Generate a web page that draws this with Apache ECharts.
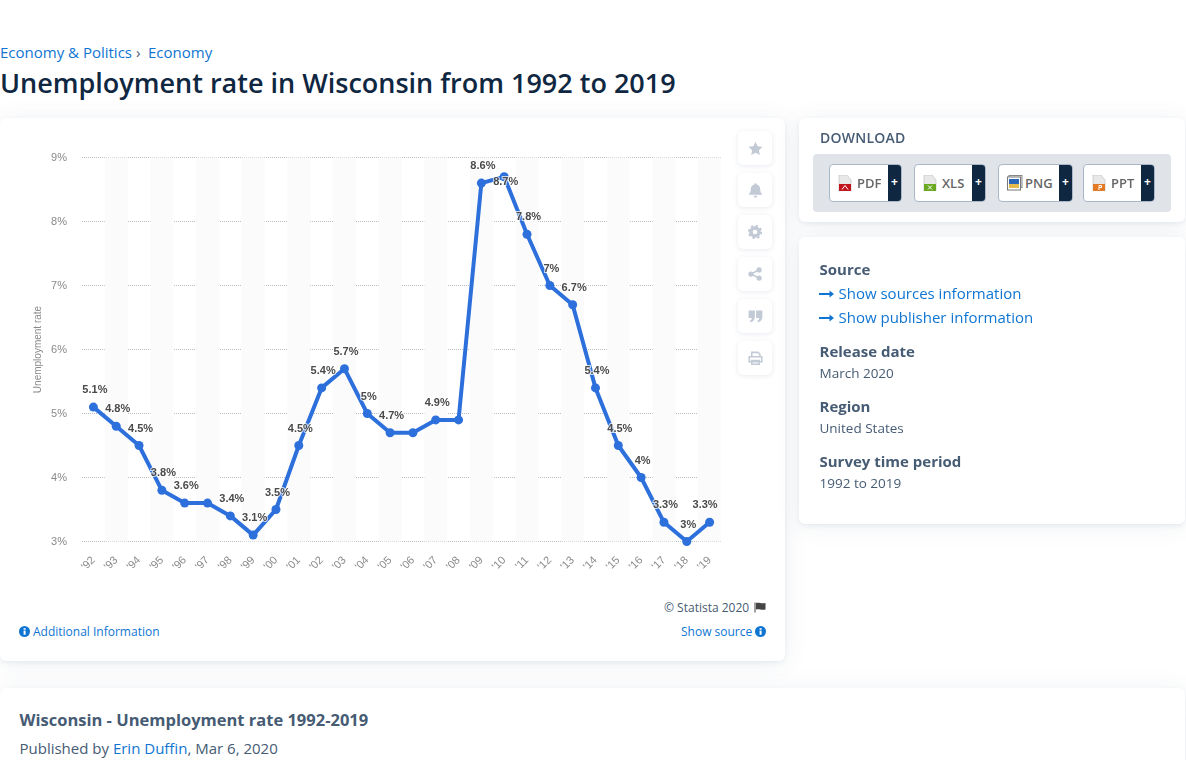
<!DOCTYPE html>
<html><head><meta charset="utf-8">
<script src="https://cdn.jsdelivr.net/npm/echarts@6/dist/echarts.min.js"></script>
<style>
html,body{margin:0;padding:0;width:1186px;height:760px;overflow:hidden;background:#fff;font-family:"Open Sans","Noto Sans",sans-serif;color:#0f2741}
#page{position:relative;width:1186px;height:760px;overflow:hidden;background:#fff}
.abs{position:absolute;white-space:nowrap}
a,.lnk{color:#0f75d2;text-decoration:none}
.card{position:absolute;background:#fff;border-radius:6px;box-shadow:0 2px 4px rgba(70,85,120,.08),0 2px 24px rgba(70,85,120,.09)}
.side-h{font-weight:700;font-size:15px;color:#465b74;line-height:20px}
.side-t{font-size:13.5px;color:#465b74;line-height:18px}
.icon{position:absolute;left:738px;width:34px;height:34px;background:#fff;border-radius:5px;box-shadow:0 1px 5px rgba(60,80,120,.12);display:flex;align-items:center;justify-content:center}
.btn{position:absolute;top:164px;height:36px;background:#fff;border:1px solid #a9b7c8;border-radius:4px;box-sizing:content-box;overflow:hidden}
.btn b{position:absolute;top:9px;font-size:13px;font-weight:600;color:#666;line-height:18px}
.btn i{position:absolute;right:0;top:0;bottom:0;width:13px;background:#0f2741;color:#fff;font-style:normal;font-weight:700;font-size:12px;line-height:34px;text-align:center}
.btn svg{position:absolute;left:8px;top:10px}
.arr{position:absolute;left:819px}
</style></head><body>
<div id="page">
<div class="abs" style="left:0;top:42px;font-size:15px;line-height:20px"><span class="lnk">Economy &amp; Politics</span><span style="color:#465b74;position:absolute;left:136px;top:0">›</span><span class="lnk" style="position:absolute;left:148px;top:0">Economy</span></div>
<div class="abs" style="left:0;top:65px;font-size:27px;line-height:36px;font-weight:600;color:#0f2741">Unemployment rate in Wisconsin from 1992 to 2019</div>

<div class="card" style="left:0;top:118px;width:785px;height:543px"></div>
<div id="chart" class="abs" style="left:0;top:118px;width:785px;height:480px"></div>

<div class="icon" style="top:131px"><svg width="15" height="15" viewBox="0 0 24 24" fill="#c2cad6"><path d="M12 1l3.4 7.3 7.9.9-5.9 5.4 1.6 7.9L12 18.6 5 22.500l1.600-7.900L.7 9.200l7.900-.9z"/></svg></div>
<div class="icon" style="top:173px"><svg width="15" height="16" viewBox="0 0 24 24" fill="#c2cad6"><path d="M12 1a2 2 0 0 1 2 2c4 1 5.500 4 5.500 8 0 4 1.500 5.500 3 7v1.500h-21V18c1.500-1.500 3-3 3-7 0-4 1.500-7 5.500-8a2 2 0 0 1 2-2zM9 21h6a3 3 0 0 1-6 0z"/></svg></div>
<div class="icon" style="top:215px"><svg width="14" height="14" viewBox="0 0 24 24"><circle cx="12" cy="12" r="7" fill="none" stroke="#c2cad6" stroke-width="6"/><circle cx="12" cy="12" r="10.500" fill="none" stroke="#c2cad6" stroke-width="3.500" stroke-dasharray="4 4.200"/></svg></div>
<div class="icon" style="top:257px"><svg width="14" height="14" viewBox="0 0 24 24" fill="#c2cad6"><circle cx="19" cy="5" r="4.500"/><circle cx="5" cy="12" r="4.500"/><circle cx="19" cy="19" r="4.500"/><path d="M5 12L19 5M5 12l14 7" stroke="#c2cad6" stroke-width="2.500"/></svg></div>
<div class="icon" style="top:299px"><svg width="15" height="14" viewBox="0 0 24 22" fill="#c2cad6"><path d="M1 2h10v10c0 5-3 8-7 9l-1-2.500c2-.8 3-2.500 3-4.500H1zM13 2h10v10c0 5-3 8-7 9l-1-2.500c2-.8 3-2.500 3-4.500h-5z"/></svg></div>
<div class="icon" style="top:341px"><svg width="15" height="14" viewBox="0 0 24 22" fill="none" stroke="#c2cad6" stroke-width="2.500"><path d="M6 8V2h10l3 3v3M2 9h20v8H2zM6 15h12v6H6z"/></svg></div>

<div class="abs" style="left:664px;top:600px;font-size:12px;line-height:16px;color:#465b74">© Statista 2020</div>
<svg class="abs" style="left:754px;top:602px" width="12" height="11" viewBox="0 0 12 11"><path d="M0.500 0.500h1v10h-1zM2 1c3-1 5 1 9.500 0v6.500C7 8.500 5 6.500 2 7.500z" fill="#444"/></svg>
<svg class="abs" style="left:19px;top:626px" width="11" height="11" viewBox="0 0 12 12"><circle cx="6" cy="6" r="6" fill="#0f75d2"/><rect x="5" y="5" width="2.200" height="4.500" fill="#fff"/><rect x="5" y="2.400" width="2.200" height="1.700" fill="#fff"/></svg>
<div class="abs lnk" style="left:33px;top:623px;font-size:12px;line-height:17px">Additional Information</div>
<div class="abs lnk" style="left:681px;top:623px;font-size:12px;line-height:17px">Show source</div>
<svg class="abs" style="left:755px;top:626px" width="11" height="11" viewBox="0 0 12 12"><circle cx="6" cy="6" r="6" fill="#0f75d2"/><rect x="5" y="5" width="2.200" height="4.500" fill="#fff"/><rect x="5" y="2.400" width="2.200" height="1.700" fill="#fff"/></svg>

<div class="card" style="left:799px;top:118px;width:386px;height:104px"></div>
<div class="abs" style="left:820px;top:128px;font-size:14px;line-height:20px;font-weight:600;color:#465b74;letter-spacing:.25px">DOWNLOAD</div>
<div class="abs" style="left:813px;top:154px;width:358px;height:58px;background:#e0e3e8;border-radius:4px"></div>
<div class="btn" style="left:829px;width:71px"><svg width="14" height="16" viewBox="0 0 14 16"><path d="M1 0h8l4 5v11H1z" fill="#e8e8e8" stroke="#bbb" stroke-width=".6"/><rect x="1" y="9" width="12" height="7" fill="#c1141c"/><path d="M7 10.500l-3 4M7 10.500l3 4" stroke="#fff" stroke-width="1"/></svg><b style="left:27px">PDF</b><i>+</i></div>
<div class="btn" style="left:914px;width:70px"><svg width="14" height="16" viewBox="0 0 14 16"><path d="M1 0h8l4 5v11H1z" fill="#e8e8e8" stroke="#bbb" stroke-width=".6"/><rect x="1" y="9" width="12" height="7" fill="#6aa821"/><path d="M5 10.500l4 4M9 10.500l-4 4" stroke="#fff" stroke-width="1"/></svg><b style="left:27px">XLS</b><i>+</i></div>
<div class="btn" style="left:998px;width:73px"><svg width="16" height="16" viewBox="0 0 16 16"><rect x="2" y="0.500" width="13" height="12" fill="#eee" stroke="#888"/><rect x="0.500" y="2" width="13" height="13" fill="#fff" stroke="#777"/><rect x="2" y="4" width="10" height="9" fill="#2a66b8"/><rect x="2" y="9" width="10" height="4" fill="#e4b94d"/></svg><b style="left:26px">PNG</b><i>+</i></div>
<div class="btn" style="left:1083px;width:70px"><svg width="14" height="16" viewBox="0 0 14 16"><path d="M1 0h8l4 5v11H1z" fill="#e8e8e8" stroke="#bbb" stroke-width=".6"/><rect x="1" y="9" width="12" height="7" fill="#e27a26"/><path d="M7 15v-4.500h2.500v2H7" stroke="#fff" stroke-width="1" fill="none"/></svg><b style="left:27px">PPT</b><i>+</i></div>

<div class="card" style="left:799px;top:237px;width:386px;height:287px"></div>
<div class="abs side-h" style="left:819.500px;top:259px">Source</div>
<svg class="arr" style="top:290px" width="15" height="8" viewBox="0 0 15 8"><path d="M0 3h10.500V0.500L15 4l-4.500 3.500V5H0z" fill="#0f75d2"/></svg>
<div class="abs lnk" style="left:838.500px;top:283px;font-size:15px;line-height:20px">Show sources information</div>
<svg class="arr" style="top:314px" width="15" height="8" viewBox="0 0 15 8"><path d="M0 3h10.500V0.500L15 4l-4.500 3.500V5H0z" fill="#0f75d2"/></svg>
<div class="abs lnk" style="left:838.500px;top:307px;font-size:15px;line-height:20px">Show publisher information</div>
<div class="abs side-h" style="left:819.500px;top:341px">Release date</div>
<div class="abs side-t" style="left:819.500px;top:364px">March 2020</div>
<div class="abs side-h" style="left:819.500px;top:396px">Region</div>
<div class="abs side-t" style="left:819.500px;top:419px">United States</div>
<div class="abs side-h" style="left:819.500px;top:451px">Survey time period</div>
<div class="abs side-t" style="left:819.500px;top:474px">1992 to 2019</div>

<div class="card" style="left:0;top:688px;width:1185px;height:100px"></div>
<div class="abs" style="left:19.500px;top:709px;font-size:16.500px;line-height:21px;font-weight:700;color:#465b74">Wisconsin - Unemployment rate 1992-2019</div>
<div class="abs" style="left:19.500px;top:738px;font-size:15px;line-height:21px;color:#465b74">Published by <span class="lnk">Erin Duffin</span>, Mar 6, 2020</div>
</div>
<script>
const years = ["'92","'93","'94","'95","'96","'97","'98","'99","'00","'01","'02","'03","'04","'05","'06","'07","'08","'09","'10","'11","'12","'13","'14","'15","'16","'17","'18","'19"];
const unemploymentRate = [5.1,4.8,4.5,3.8,3.6,3.6,3.4,3.1,3.5,4.5,5.4,5.7,5,4.7,4.7,4.9,4.9,8.6,8.7,7.8,7,6.7,5.4,4.5,4,3.3,3,3.3];
const hiddenLabels = [5,14,16];
const belowLabels = [18];
const lastIndex = unemploymentRate.length - 1;

const chart = echarts.init(document.getElementById('chart'), null, {renderer:'canvas'});
chart.setOption({
  animation:false,
  grid:{left:82,right:64,top:39.5,height:384,containLabel:false},
  xAxis:{type:'category',data:years,boundaryGap:true,
    axisLine:{show:false},axisTick:{show:false},
    axisLabel:{rotate:45,interval:0,color:'#8a8a8a',fontSize:11,fontFamily:'"Liberation Sans",Arial,sans-serif',margin:17},
    splitLine:{show:false},
    splitArea:{show:true,interval:0,areaStyle:{color:['rgba(255,255,255,0)','#fbfbfb']}}},
  yAxis:{type:'value',min:3,max:9,interval:1,
    name:'Unemployment rate',nameLocation:'middle',nameGap:39,nameRotate:90,nameMoveOverlap:false,
    nameTextStyle:{color:'#8a8a8a',fontSize:10,fontFamily:'"Liberation Sans",Arial,sans-serif'},
    axisLine:{show:false},axisTick:{show:false},
    axisLabel:{color:'#8a8a8a',fontSize:11,margin:15,padding:[3,0,0,0],fontFamily:'"Liberation Sans",Arial,sans-serif',formatter:v=>v+'%'},
    splitLine:{show:true,lineStyle:{color:'#bdbdbd',type:'dotted',width:1}}},
  series:[{type:'line',
    data:unemploymentRate.map((v,i)=>({value:v,
      label:{show:!hiddenLabels.includes(i),position:belowLabels.includes(i)?'bottom':'top',
             distance:belowLabels.includes(i)?-5:7}})),
    symbol:'circle',symbolSize:9,showSymbol:true,
    lineStyle:{color:'#2d70dc',width:4},itemStyle:{color:'#2d70dc'},
    label:{color:'#4a4a4a',fontSize:11,fontWeight:'bold',fontFamily:'"Liberation Sans",Arial,sans-serif',formatter:p=>p.value+'%',textBorderColor:'rgba(255,255,255,0.75)',textBorderWidth:2},
    labelLayout:p=>({dx:p.dataIndex===lastIndex?-4.5:1.5,hideOverlap:false})}]
});
</script>
</body></html>
